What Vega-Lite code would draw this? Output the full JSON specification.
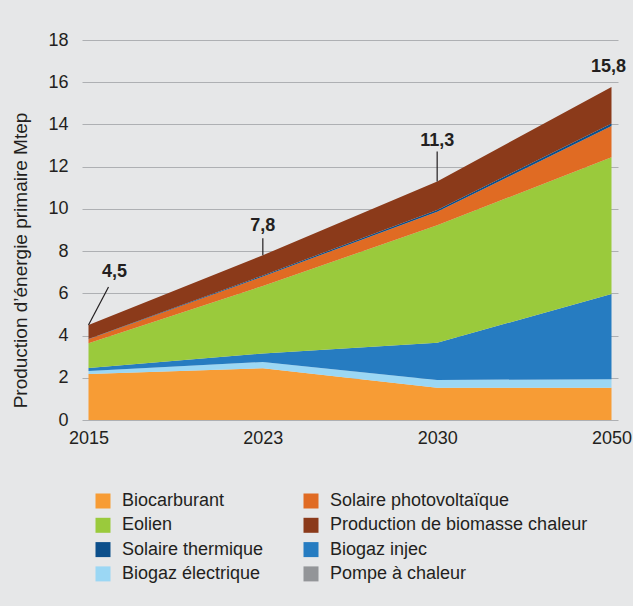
{
  "$schema": "https://vega.github.io/schema/vega-lite/v6.json",
  "width": 536,
  "height": 380,
  "autosize": {"type": "none"},
  "padding": {"left": 82, "top": 40, "right": 15, "bottom": 186},
  "background": "#e6e7e8",
  "config": {
    "view": {"stroke": null},
    "font": "Liberation Sans",
    "axis": {"labelFont": "Liberation Sans", "titleFont": "Liberation Sans"},
    "legend": {"labelFont": "Liberation Sans"}
  },
  "datasets": {
    "production": [
      {"annee": "2015", "source": "Biocarburant", "valeur": 2.18},
      {"annee": "2015", "source": "Biogaz électrique", "valeur": 0.14},
      {"annee": "2015", "source": "Biogaz injec", "valeur": 0.14},
      {"annee": "2015", "source": "Eolien", "valeur": 1.17},
      {"annee": "2015", "source": "Solaire photovoltaïque", "valeur": 0.19},
      {"annee": "2015", "source": "Solaire thermique", "valeur": 0.02},
      {"annee": "2015", "source": "Production de biomasse chaleur", "valeur": 0.66},
      {"annee": "2015", "source": "Pompe à chaleur", "valeur": 0},
      {"annee": "2023", "source": "Biocarburant", "valeur": 2.45},
      {"annee": "2023", "source": "Biogaz électrique", "valeur": 0.3},
      {"annee": "2023", "source": "Biogaz injec", "valeur": 0.4},
      {"annee": "2023", "source": "Eolien", "valeur": 3.2},
      {"annee": "2023", "source": "Solaire photovoltaïque", "valeur": 0.45},
      {"annee": "2023", "source": "Solaire thermique", "valeur": 0.05},
      {"annee": "2023", "source": "Production de biomasse chaleur", "valeur": 0.95},
      {"annee": "2023", "source": "Pompe à chaleur", "valeur": 0},
      {"annee": "2030", "source": "Biocarburant", "valeur": 1.53},
      {"annee": "2030", "source": "Biogaz électrique", "valeur": 0.37},
      {"annee": "2030", "source": "Biogaz injec", "valeur": 1.76},
      {"annee": "2030", "source": "Eolien", "valeur": 5.56},
      {"annee": "2030", "source": "Solaire photovoltaïque", "valeur": 0.64},
      {"annee": "2030", "source": "Solaire thermique", "valeur": 0.09},
      {"annee": "2030", "source": "Production de biomasse chaleur", "valeur": 1.35},
      {"annee": "2030", "source": "Pompe à chaleur", "valeur": 0},
      {"annee": "2050", "source": "Biocarburant", "valeur": 1.53},
      {"annee": "2050", "source": "Biogaz électrique", "valeur": 0.4},
      {"annee": "2050", "source": "Biogaz injec", "valeur": 4.04},
      {"annee": "2050", "source": "Eolien", "valeur": 6.48},
      {"annee": "2050", "source": "Solaire photovoltaïque", "valeur": 1.48},
      {"annee": "2050", "source": "Solaire thermique", "valeur": 0.12},
      {"annee": "2050", "source": "Production de biomasse chaleur", "valeur": 1.72},
      {"annee": "2050", "source": "Pompe à chaleur", "valeur": 0}
    ],
    "series": [
      {"source": "Biocarburant", "rang": 1},
      {"source": "Biogaz électrique", "rang": 2},
      {"source": "Biogaz injec", "rang": 3},
      {"source": "Eolien", "rang": 4},
      {"source": "Solaire photovoltaïque", "rang": 5},
      {"source": "Solaire thermique", "rang": 6},
      {"source": "Production de biomasse chaleur", "rang": 7},
      {"source": "Pompe à chaleur", "rang": 8}
    ],
    "totaux": [
      {"annee": "2015", "total": 4.5, "label": "4,5"},
      {"annee": "2023", "total": 7.8, "label": "7,8"},
      {"annee": "2030", "total": 11.3, "label": "11,3"},
      {"annee": "2050", "total": 15.8, "label": "15,8"}
    ]
  },
  "layer": [
    {
      "data": {"name": "production"},
      "transform": [
        {"lookup": "source", "from": {"data": {"name": "series"}, "key": "source", "fields": ["rang"]}}
      ],
      "mark": {"type": "area", "opacity": 1},
      "encoding": {
        "x": {
          "field": "annee",
          "type": "ordinal",
          "scale": {"type": "point", "padding": 0.0373},
          "axis": {
            "title": null,
            "labelAngle": 0,
            "labelFontSize": 18,
            "labelColor": "#231f20",
            "labelPadding": 9,
            "ticks": false,
            "tickSize": 0,
            "domain": false,
            "grid": false
          }
        },
        "y": {
          "field": "valeur",
          "type": "quantitative",
          "stack": "zero",
          "title": "Production d’énergie primaire Mtep",
          "scale": {"domain": [0, 18], "nice": false},
          "axis": {
            "values": [0, 2, 4, 6, 8, 10, 12, 14, 16, 18],
            "labelFontSize": 18,
            "labelColor": "#231f20",
            "labelPadding": 14,
            "ticks": false,
            "tickSize": 0,
            "domain": false,
            "grid": true,
            "gridColor": "#aeb0b3",
            "gridWidth": 1,
            "titleFontSize": 19,
            "titleFontWeight": "normal",
            "titleColor": "#231f20",
            "titleAngle": 270,
            "titleAlign": "center",
            "titleBaseline": "middle",
            "titleX": -62,
            "titleY": 220
          }
        },
        "order": {"field": "rang", "type": "quantitative", "sort": "ascending"},
        "color": {
          "field": "source",
          "type": "nominal",
          "scale": {
            "domain": [
              "Biocarburant",
              "Eolien",
              "Solaire thermique",
              "Biogaz électrique",
              "Solaire photovoltaïque",
              "Production de biomasse chaleur",
              "Biogaz injec",
              "Pompe à chaleur"
            ],
            "range": [
              "#f79c35",
              "#9aca3c",
              "#0c4f8b",
              "#9bd7f4",
              "#e06b23",
              "#8b3a1a",
              "#267cc1",
              "#939598"
            ]
          },
          "legend": {
            "title": null,
            "orient": "none",
            "legendX": 12,
            "legendY": 452,
            "columns": 2,
            "columnPadding": 38,
            "rowPadding": 6.3,
            "padding": 0,
            "symbolType": "square",
            "symbolSize": 225,
            "symbolStrokeWidth": 0,
            "symbolOpacity": 1,
            "labelFontSize": 18,
            "labelColor": "#231f20",
            "labelOffset": 10,
            "labelLimit": 400
          }
        }
      }
    },
    {
      "data": {"name": "totaux"},
      "transform": [{"filter": {"field": "annee", "equal": "2015"}}],
      "mark": {"type": "rule", "color": "#231f20", "strokeWidth": 1.2, "x2Offset": 20, "y2Offset": -38},
      "encoding": {
        "x": {"field": "annee", "type": "ordinal"},
        "x2": {"field": "annee"},
        "y": {"field": "total", "type": "quantitative", "title": "Production d’énergie primaire Mtep"},
        "y2": {"field": "total"}
      }
    },
    {
      "data": {"name": "totaux"},
      "transform": [{"filter": {"field": "annee", "oneOf": ["2023"]}}],
      "mark": {"type": "rule", "color": "#231f20", "strokeWidth": 1.2, "y2Offset": -17},
      "encoding": {
        "x": {"field": "annee", "type": "ordinal"},
        "y": {"field": "total", "type": "quantitative", "title": "Production d’énergie primaire Mtep"},
        "y2": {"field": "total"}
      }
    },
    {
      "data": {"name": "totaux"},
      "transform": [{"filter": {"field": "annee", "oneOf": ["2030"]}}],
      "mark": {"type": "rule", "color": "#231f20", "strokeWidth": 1.2, "y2Offset": -30},
      "encoding": {
        "x": {"field": "annee", "type": "ordinal"},
        "y": {"field": "total", "type": "quantitative", "title": "Production d’énergie primaire Mtep"},
        "y2": {"field": "total"}
      }
    },
    {
      "data": {"name": "totaux"},
      "transform": [{"filter": {"field": "annee", "equal": "2015"}}],
      "mark": {"type": "text", "fontSize": 18, "fontWeight": "bold", "color": "#231f20", "align": "center", "baseline": "middle", "dx": 26, "dy": -53},
      "encoding": {
        "x": {"field": "annee", "type": "ordinal"},
        "y": {"field": "total", "type": "quantitative", "title": "Production d’énergie primaire Mtep"},
        "text": {"field": "label"}
      }
    },
    {
      "data": {"name": "totaux"},
      "transform": [{"filter": {"field": "annee", "equal": "2023"}}],
      "mark": {"type": "text", "fontSize": 18, "fontWeight": "bold", "color": "#231f20", "align": "center", "baseline": "middle", "dx": 0, "dy": -29},
      "encoding": {
        "x": {"field": "annee", "type": "ordinal"},
        "y": {"field": "total", "type": "quantitative", "title": "Production d’énergie primaire Mtep"},
        "text": {"field": "label"}
      }
    },
    {
      "data": {"name": "totaux"},
      "transform": [{"filter": {"field": "annee", "equal": "2030"}}],
      "mark": {"type": "text", "fontSize": 18, "fontWeight": "bold", "color": "#231f20", "align": "center", "baseline": "middle", "dx": 0, "dy": -40},
      "encoding": {
        "x": {"field": "annee", "type": "ordinal"},
        "y": {"field": "total", "type": "quantitative", "title": "Production d’énergie primaire Mtep"},
        "text": {"field": "label"}
      }
    },
    {
      "data": {"name": "totaux"},
      "transform": [{"filter": {"field": "annee", "equal": "2050"}}],
      "mark": {"type": "text", "fontSize": 18, "fontWeight": "bold", "color": "#231f20", "align": "center", "baseline": "middle", "dx": -3, "dy": -19},
      "encoding": {
        "x": {"field": "annee", "type": "ordinal"},
        "y": {"field": "total", "type": "quantitative", "title": "Production d’énergie primaire Mtep"},
        "text": {"field": "label"}
      }
    }
  ]
}
